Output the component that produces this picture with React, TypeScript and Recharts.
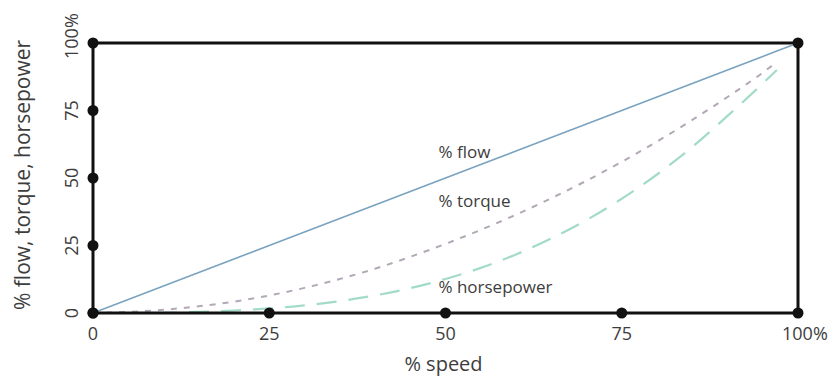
import React from 'react';
import { ComposedChart, Line, XAxis, YAxis, ReferenceLine, ReferenceDot, Label } from 'recharts';

const speed = [0, 5, 10, 15, 20, 25, 30, 35, 40, 45, 50, 55, 60, 65, 70, 75, 80, 85, 90, 95, 97, 100];
const flow = [0, 5, 10, 15, 20, 25, 30, 35, 40, 45, 50, 55, 60, 65, 70, 75, 80, 85, 90, 95, 97, 100];
const torque = [0, 0.4, 1.2, 2.5, 4.2, 6.5, 9.3, 12.6, 16.4, 20.8, 25.6, 30.8, 36.4, 42.5, 49, 56, 63.5, 71.5, 80, 89, 93, null];
const horsepower = [0, 0, 0.1, 0.4, 0.9, 1.7, 2.8, 4.4, 6.5, 9.2, 12.6, 16.7, 21.7, 27.6, 34.4, 42.3, 51.3, 61.5, 73, 85, 90, null];

const xTicks = [0, 25, 50, 75, 100];
const xTickLabels = ['0', '25', '50', '75', '100%'];
const yTicks = [0, 25, 50, 75, 100];
const yTickLabels = ['0', '25', '50', '75', '100%'];

const noteLabels = ['% flow', '% torque', '% horsepower'];
const noteX = [49, 49, 49];
const noteY = [60, 41.5, 10];

const data = speed.map((s, i) => ({ speed: s, flow: flow[i], torque: torque[i], horsepower: horsepower[i] }));

const FONT = '"Open Sans", sans-serif';
const TXT = '#3d3d3d';

const XTick = (props: any) => {
  const { x, y, index } = props;
  const label = xTickLabels[index];
  const pct = label.endsWith('%');
  return (
    <g>
      <circle cx={x} cy={y} r={5.5} fill="#111" />
      <text x={pct ? x - 16 : x} y={y + 20} textAnchor={pct ? 'start' : 'middle'} dominantBaseline="central"
        fontFamily={FONT} fontSize={18} fill={TXT}>{label}</text>
    </g>
  );
};

const YTick = (props: any) => {
  const { x, y, index } = props;
  const label = yTickLabels[index];
  const pct = label.endsWith('%');
  const tx = x - 22;
  return (
    <g>
      <circle cx={x} cy={y} r={5.5} fill="#111" />
      <text x={tx} y={y} dx={pct ? -16 : 0} transform={`rotate(-90 ${tx} ${y})`} textAnchor={pct ? 'start' : 'middle'}
        dominantBaseline="central" fontFamily={FONT} fontSize={18} fill={TXT}>{label}</text>
    </g>
  );
};

export default function App() {
  return (
    <div style={{ position: 'absolute', left: 0, top: 0, background: '#fff' }}>
      <ComposedChart width={830} height={379} data={data} margin={{ top: 43, right: 32, bottom: 0, left: 0 }}>
        <XAxis dataKey="speed" type="number" domain={[0, 100]} ticks={xTicks} height={66}
          axisLine={{ stroke: '#111', strokeWidth: 3 }} tickLine={false} tickSize={0} tickMargin={0}
          tick={<XTick />} interval={0}>
          <Label content={(p: any) => {
            const vb = p.viewBox;
            return (
              <text x={vb.x + vb.width / 2 - 2} y={vb.y + 50} textAnchor="middle" dominantBaseline="central"
                fontFamily={FONT} fontSize={20} fill={TXT}>% speed</text>
            );
          }} />
        </XAxis>
        <YAxis type="number" domain={[0, 100]} ticks={yTicks} width={93}
          axisLine={{ stroke: '#111', strokeWidth: 3 }} tickLine={false} tickSize={0} tickMargin={0}
          tick={<YTick />} interval={0}>
          <Label content={(p: any) => {
            const vb = p.viewBox;
            const cx = vb.x + 22;
            const cy = vb.y + vb.height / 2 - 3;
            return (
              <text x={cx} y={cy} transform={`rotate(-90 ${cx} ${cy})`} textAnchor="middle" dominantBaseline="central"
                fontFamily={FONT} fontSize={21} fill={TXT}>% flow, torque, horsepower</text>
            );
          }} />
        </YAxis>
        <ReferenceLine y={100} stroke="#111" strokeWidth={3} />
        <ReferenceLine x={100} stroke="#111" strokeWidth={3} />
        <Line type="linear" dataKey="flow" stroke="#7aa3bf" strokeWidth={1.6} dot={false} isAnimationActive={false} />
        <Line type="monotone" dataKey="torque" stroke="#b3a8b6" strokeWidth={2} strokeDasharray="6 7" dot={false} isAnimationActive={false} connectNulls={false} />
        <Line type="monotone" dataKey="horsepower" stroke="#a3dcc6" strokeWidth={2.2} strokeDasharray="20 12" dot={false} isAnimationActive={false} connectNulls={false} />
        <ReferenceDot x={100} y={100} r={5.5} fill="#111" stroke="none" />
        {noteLabels.map((t, i) => (
          <ReferenceDot key={t} x={noteX[i]} y={noteY[i]} r={0}
            shape={(p: any) => (
              <text x={p.cx} y={p.cy} textAnchor="start" dominantBaseline="central" fontFamily={FONT} fontSize={17} fill={TXT}>{t}</text>
            )} />
        ))}
      </ComposedChart>
    </div>
  );
}
